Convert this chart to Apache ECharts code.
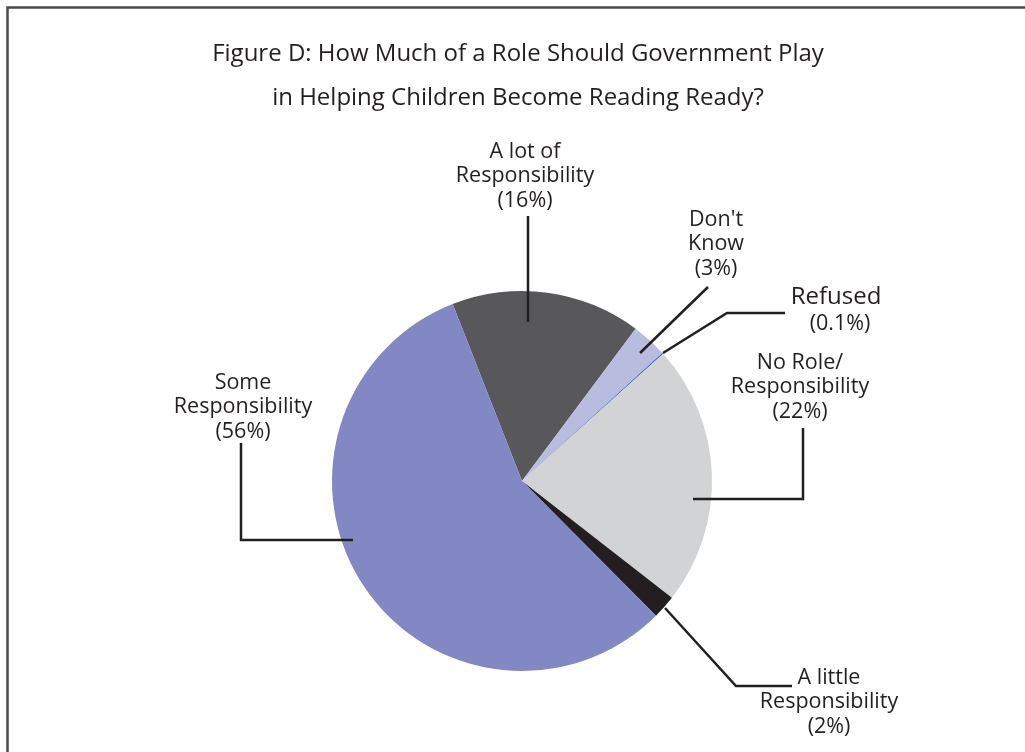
<!DOCTYPE html>
<html>
<head>
<meta charset="utf-8">
<script src="https://cdn.jsdelivr.net/npm/echarts@6/dist/echarts.min.js"></script>
<style>
  html, body { margin: 0; padding: 0; background: #ffffff; }
  #chart { width: 1025px; height: 752px; }
</style>
</head>
<body>
<div id="chart"></div>
<script>
// Survey answers, drawn clockwise from the top-left of the pie
const categories = ['A lot of Responsibility', "Don't Know", 'Refused', 'No Role/Responsibility', 'A little Responsibility', 'Some Responsibility'];
const shares = [16, 3, 0.1, 22, 2, 56];
const labelTexts = [
  'A lot of\nResponsibility\n(16%)',
  "Don't\nKnow\n(3%)",
  '{big|Refused}\n{pct|(0.1%)}',
  'No Role/\nResponsibility\n(22%)',
  'A little\nResponsibility\n(2%)',
  'Some\nResponsibility\n(56%)'
];
const sliceColors = ['#58585a', '#b9bcdf', '#2f55a8', '#d2d3d5', '#231f20', '#8288c4'];

// Where each label sits and the route its leader line takes (starting inside the slice)
const labelSpots = [
  { x: 525, y: 176, line: [[528, 322], [528, 216]] },
  { x: 716, y: 244, line: [[640, 353], [708, 287]] },
  { x: 836, y: 310, line: [[663, 353], [727, 313], [785, 313]] },
  { x: 800, y: 387, line: [[693, 499], [803, 499], [803, 428]] },
  { x: 829, y: 702, line: [[665, 608], [736, 686], [792, 686]] },
  { x: 243, y: 407, line: [[353, 540], [241, 540], [241, 443]] }
];

const chart = echarts.init(document.getElementById('chart'), null, { renderer: 'canvas' });
const textColor = '#231f20';
const fontFamily = '"Open Sans", "Noto Sans", sans-serif';

// Leader lines are drawn above the slices so they reach into them
const leaderLines = labelSpots.map((spot) => ({
  type: 'polyline',
  z: 100,
  silent: true,
  shape: { points: spot.line },
  style: { fill: 'none', stroke: textColor, lineWidth: 2.5 }
}));

chart.setOption({
  backgroundColor: '#ffffff',
  animation: false,
  title: {
    text: 'Figure D: How Much of a Role Should Government Play\nin Helping Children Become Reading Ready?',
    left: 513,
    top: 27,
    textAlign: 'center',
    textStyle: {
      color: textColor,
      fontFamily: fontFamily,
      fontSize: 24,
      fontWeight: 'normal',
      lineHeight: 44
    }
  },
  graphic: [{
    type: 'rect',
    shape: { x: 7.5, y: 7.5, width: 1100, height: 900 },
    style: { fill: 'none', stroke: '#4a4a4a', lineWidth: 2.5 },
    silent: true
  }].concat(leaderLines),
  series: [{
    type: 'pie',
    center: [522, 481],
    radius: 190,
    startAngle: 111.4,
    clockwise: true,
    avoidLabelOverlap: false,
    data: categories.map((name, i) => ({
      name: name,
      value: shares[i],
      itemStyle: { color: sliceColors[i] }
    })),
    itemStyle: { borderWidth: 0 },
    label: {
      show: true,
      position: 'outside',
      formatter: (p) => labelTexts[p.dataIndex],
      color: textColor,
      fontFamily: fontFamily,
      fontSize: 21.5,
      lineHeight: 24.5,
      align: 'center',
      rich: {
        big: { fontSize: 24, lineHeight: 27, color: textColor, fontFamily: fontFamily },
        pct: { fontSize: 21.5, lineHeight: 25, color: textColor, fontFamily: fontFamily, padding: [0, 0, 0, 8] }
      }
    },
    labelLine: { show: false },
    labelLayout: (params) => {
      const spot = labelSpots[params.dataIndex];
      return {
        x: spot.x,
        y: spot.y,
        align: 'center',
        verticalAlign: 'middle',
        hideOverlap: false
      };
    },
    emphasis: { disabled: true }
  }]
});
</script>
</body>
</html>
